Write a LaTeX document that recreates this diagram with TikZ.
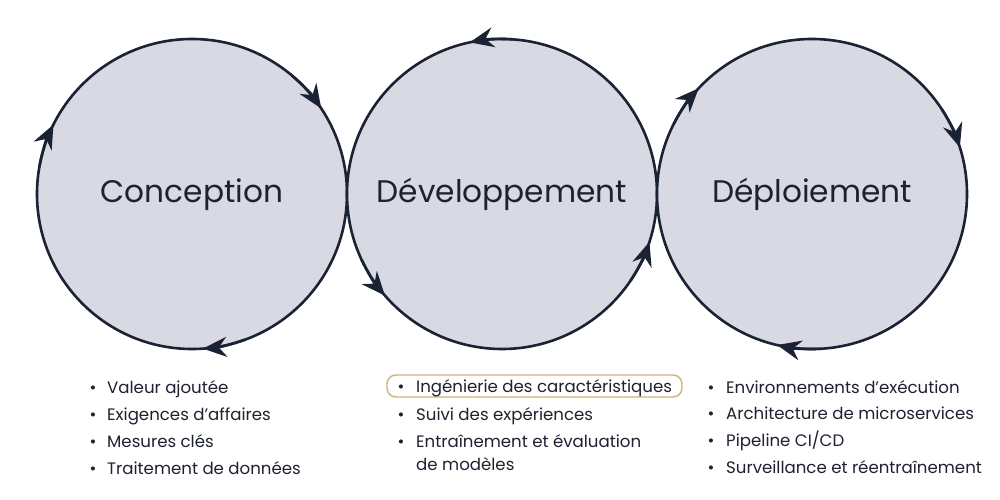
\documentclass[tikz,border=0pt]{standalone}
\usepackage{fontspec}
\setmainfont{Poppins}
\usetikzlibrary{arrows.meta}
\definecolor{ink}{HTML}{1B2233}
\definecolor{disc}{HTML}{D8D9E2}
\definecolor{gold}{HTML}{D2B27A}
\definecolor{txt}{HTML}{1E2230}
\begin{document}
\begin{tikzpicture}[x=1pt,y=1pt,
  phase/.style={circle, fill=disc, draw=ink, line width=2.6pt, minimum size=310pt, inner sep=0pt},
  flow/.style={draw=ink, line width=2.6pt, -{Stealth[length=24pt,width=20pt,inset=8pt]}},
  title/.style={font=\fontsize{31.2}{37}\selectfont, text=txt, anchor=base, inner sep=0pt},
  item/.style={font=\fontsize{16.6}{20}\selectfont, text=txt, anchor=base west, inner sep=0pt},
  dot/.style={font=\fontsize{16.6}{20}\selectfont, text=txt, anchor=base, inner sep=0pt},
  hl/.style={draw=gold, line width=1.4pt, rounded corners=9pt, minimum width=295pt, minimum height=22pt, inner sep=0pt}
]
\path[use as bounding box, fill=white] (0,0) rectangle (1000,500);

% phases
\node[phase] (c1) at (192,306) {};
\node[phase] (c2) at (502,306) {};
\node[phase] (c3) at (812,306) {};

\node[title] (t1) at (192,297) {Conception};
\node[title] (t2) at (502,297) {Développement};
\node[title] (t3) at (812,297) {Déploiement};

% arrows circle 1 (clockwise)
\draw[flow] ([shift={(50:155)}]c1.center) arc[start angle=50, end angle=33.5, radius=155];
\draw[flow] ([shift={(170:155)}]c1.center) arc[start angle=170, end angle=153.4, radius=155];
\draw[flow] ([shift={(-70:155)}]c1.center) arc[start angle=-70, end angle=-86, radius=155];
% arrows circle 2 (counter-clockwise)
\draw[flow] ([shift={(86:155)}]c2.center) arc[start angle=86, end angle=102, radius=155];
\draw[flow] ([shift={(205:155)}]c2.center) arc[start angle=205, end angle=221, radius=155];
\draw[flow] ([shift={(-34:155)}]c2.center) arc[start angle=-34, end angle=-18, radius=155];
% arrows circle 3 (clockwise)
\draw[flow] ([shift={(153:155)}]c3.center) arc[start angle=153, end angle=137, radius=155];
\draw[flow] ([shift={(33:155)}]c3.center) arc[start angle=33, end angle=17.5, radius=155];
\draw[flow] ([shift={(-87:155)}]c3.center) arc[start angle=-87, end angle=-103, radius=155];

% highlight
\node[hl] (hl) at (534.5,114) {};

% list 1
\node[dot] (b11) at (93,106) {•}; \node[item] (l11) at (107,106) {Valeur ajoutée};
\node[dot] (b12) at (93,79)  {•}; \node[item] (l12) at (107,79)  {Exigences d’affaires};
\node[dot] (b13) at (93,52)  {•}; \node[item] (l13) at (107,52)  {Mesures clés};
\node[dot] (b14) at (93,25)  {•}; \node[item] (l14) at (107,25)  {Traitement de données};
% list 2
\node[dot] (b21) at (401,107) {•}; \node[item] (l21) at (416,107) {Ingénierie des caractéristiques};
\node[dot] (b22) at (401,79)  {•}; \node[item] (l22) at (416,79)  {Suivi des expériences};
\node[dot] (b23) at (401,52)  {•}; \node[item] (l23) at (416,52)  {Entraînement et évaluation};
\node[item] (l24) at (416,29) {de modèles};
% list 3
\node[dot] (b31) at (711,106) {•}; \node[item] (l31) at (726,106) {Environnements d’exécution};
\node[dot] (b32) at (711,80)  {•}; \node[item] (l32) at (726,80)  {Architecture de microservices};
\node[dot] (b33) at (711,53)  {•}; \node[item] (l33) at (726,53)  {Pipeline CI/CD};
\node[dot] (b34) at (711,27)  {•}; \node[item] (l34) at (726,27)  {Surveillance et réentraînement};
\end{tikzpicture}
\end{document}
